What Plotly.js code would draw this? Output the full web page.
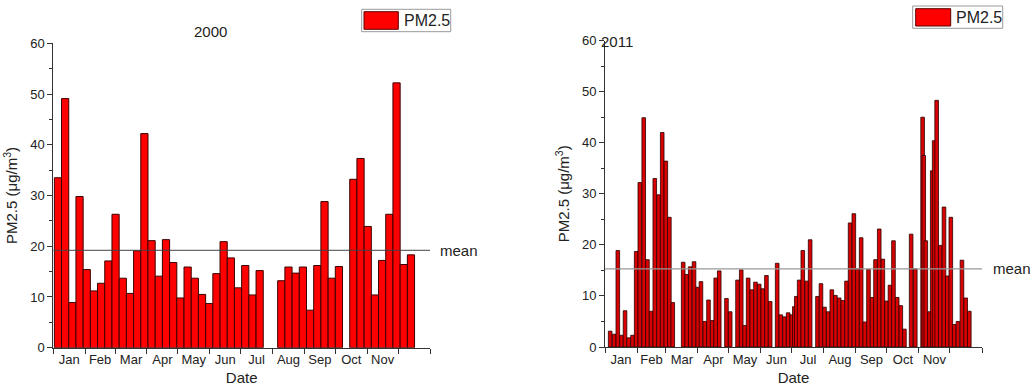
<!DOCTYPE html>
<html>
<head>
<meta charset="utf-8">
<script src="https://cdn.plot.ly/plotly-3.0.1.min.js"></script>
<style>
html,body{margin:0;padding:0;background:#fff;}
#chart{width:1035px;height:392px;}
</style>
</head>
<body>
<div id="chart"></div>
<script>
// ---------- data ----------
const monthLabels = ['Jan','Feb','Mar','Apr','May','Jun','Jul','Aug','Sep','Oct','Nov'];
const monthStarts2000 = [0,31,60,91,121,152,182,213,244,274,305,335,366];
const monthStarts2011 = [0,31,59,90,120,151,181,212,243,273,304,334,365];

// 2000: weekly samples, start day-of-year of each week
const weekStart2000 = [1,8,15,22,29,36,43,50,57,64,71,78,85,92,99,106,113,120,127,134,141,148,155,162,169,176,183,190,197,
  218,225,232,239,246,253,260,267,274,
  288,295,302,309,316,323,330,337,344];
const pm2000 = [33.5,49.1,8.9,29.8,15.4,11.2,12.7,17.1,26.3,13.7,10.7,19.1,42.2,21.1,14.1,21.3,16.8,9.8,15.9,13.7,10.5,8.7,14.6,20.9,17.7,11.8,16.2,10.4,15.2,
  13.2,15.9,14.7,15.9,7.4,16.2,28.8,13.7,16.0,
  33.2,37.3,23.9,10.4,17.2,26.3,52.2,16.4,18.3];
const mean2000 = 19.2;

// 2011: sample day-of-year (centre of each sample)
const day2011 = [5.0,8.9,12.4,16.0,19.4,22.9,26.6,30.2,33.7,37.5,41.1,44.7,48.2,51.8,55.4,58.9,62.3,65.6,
  75.7,79.1,82.5,86.2,89.8,92.9,96.6,100.2,103.8,107.2,110.6,
  117.6,121.2,
  128.3,131.9,135.2,138.6,142.1,145.7,149.3,152.7,156.3,159.9,
  166.7,170.2,173.8,177.3,180.8,183.3,185.2,188.0,191.5,195.2,198.6,
  205.7,209.1,212.5,216.1,219.6,223.1,226.7,230.2,233.8,237.3,240.9,244.4,248.0,251.5,255.1,258.5,261.9,265.5,269.0,272.5,275.9,279.3,282.9,286.4,289.9,
  296.4,300.4,
  307.5,308.6,310.6,314.1,316.8,318.7,321.1,324.6,328.2,331.4,334.8,338.1,341.7,345.6,349.2,352.7];
const pm2011 = [3.1,2.5,18.9,2.3,7.1,1.8,2.3,18.7,32.2,44.9,17.1,7.0,33.0,29.8,42.0,36.4,25.4,8.7,
  16.6,14.2,15.7,16.7,11.7,12.8,5.0,9.2,5.2,13.5,14.9,
  9.5,6.9,
  13.1,15.1,4.2,13.5,11.2,12.7,12.3,11.4,14.0,8.9,
  16.4,6.3,5.9,6.7,6.3,7.9,9.9,13.1,18.9,12.9,21.0,
  9.9,12.4,7.8,6.9,11.2,10.1,9.6,9.1,12.9,24.3,26.1,15.3,21.4,4.9,15.2,9.7,17.1,23.1,17.2,9.0,12.1,20.8,9.7,8.1,3.5,
  22.1,15.3,
  45.0,37.5,20.8,6.9,34.5,40.4,48.3,19.9,27.4,13.9,25.4,4.4,5.0,17.0,9.6,7.0];
const mean2011 = 15.3;

const seriesName = 'PM2.5';
const yTitle = 'PM2.5 (μg/m<sup>3</sup>)';
const xTitle = 'Date';

// ---------- helpers ----------
function mids(starts){ const m=[]; for(let i=0;i<monthLabels.length;i++) m.push((starts[i]+starts[i+1])/2); return m; }
const W = 1035, H = 392;
const px = v => v / W;
const py = v => 1 - v / H;
const FONT = 'Liberation Sans, Arial, sans-serif';
const AX = '#333';

function xAxis(domain, starts, anchor){
  return {
    domain: domain, anchor: anchor, range: [0, starts[starts.length-1]],
    showline: true, linecolor: AX, linewidth: 1, mirror: false,
    showgrid: false, zeroline: false,
    tickmode: 'array', tickvals: mids(starts), ticktext: monthLabels, ticks: '',
    tickfont: {size: 13, color: '#222', family: FONT},
    minor: {tickmode: 'array', tickvals: starts, ticks: 'outside', ticklen: 5, tickwidth: 1, tickcolor: AX, showgrid: false},
    title: {text: xTitle, font: {size: 15, color: '#222', family: FONT}, standoff: 6},
    fixedrange: true
  };
}
function yAxis(domain, anchor){
  return {
    domain: domain, anchor: anchor, range: [0, 60],
    showline: true, linecolor: AX, linewidth: 1,
    showgrid: false, zeroline: false,
    tickmode: 'linear', tick0: 0, dtick: 10, ticks: 'outside', ticklen: 5, tickwidth: 1, tickcolor: AX,
    minor: {dtick: 5, ticks: 'outside', ticklen: 3, tickwidth: 1, tickcolor: AX, showgrid: false},
    tickfont: {size: 13, color: '#222', family: FONT},
    title: {text: yTitle, font: {size: 15, color: '#222', family: FONT}, standoff: 8},
    fixedrange: true
  };
}

const traces = [
  {type: 'bar', name: seriesName, x: weekStart2000, y: pm2000, width: 7, offset: 0,
   marker: {color: '#ff0000', line: {color: '#3a0000', width: 1}},
   xaxis: 'x', yaxis: 'y', showlegend: false, hoverinfo: 'skip'},
  {type: 'bar', name: seriesName, x: day2011, y: pm2011, width: 3.5,
   marker: {color: '#d80000', line: {color: '#2a0000', width: 0.8}},
   xaxis: 'x2', yaxis: 'y2', showlegend: false, hoverinfo: 'skip'}
];

const shapes = [
  {type: 'line', xref: 'x', yref: 'y', x0: 0, x1: 366, y0: mean2000, y1: mean2000, line: {color: '#444', width: 1}, layer: 'above'},
  {type: 'line', xref: 'x2', yref: 'y2', x0: 0, x1: 365, y0: mean2011, y1: mean2011, line: {color: '#999', width: 1.3}, layer: 'above'},
  // legend boxes
  {type: 'rect', xref: 'paper', yref: 'paper', x0: px(361.7), x1: px(450.7), y0: py(31.7), y1: py(9.3), line: {color: '#999', width: 1}, fillcolor: '#fff'},
  {type: 'rect', xref: 'paper', yref: 'paper', x0: px(364), x1: px(398.3), y0: py(29.3), y1: py(11.7), line: {color: '#5a0000', width: 1}, fillcolor: '#ff0000'},
  {type: 'rect', xref: 'paper', yref: 'paper', x0: px(912.7), x1: px(1002.7), y0: py(28.3), y1: py(6), line: {color: '#999', width: 1}, fillcolor: '#fff'},
  {type: 'rect', xref: 'paper', yref: 'paper', x0: px(915.7), x1: px(950.7), y0: py(26), y1: py(8.7), line: {color: '#5a0000', width: 1}, fillcolor: '#ff0000'}
];

const annFont = {size: 15, color: '#222', family: FONT};
const annotations = [
  {text: '2000', xref: 'paper', yref: 'paper', x: px(210), y: py(32), xanchor: 'center', yanchor: 'middle', showarrow: false, font: annFont},
  {text: '2011', xref: 'paper', yref: 'paper', x: px(617), y: py(42), xanchor: 'center', yanchor: 'middle', showarrow: false, font: annFont},
  {text: 'mean', xref: 'x', yref: 'y', x: 366, y: mean2000, xanchor: 'left', yanchor: 'middle', xshift: 8, showarrow: false, font: {size: 15, color: '#222', family: FONT}},
  {text: 'mean', xref: 'x2', yref: 'y2', x: 365, y: mean2011, xanchor: 'left', yanchor: 'middle', xshift: 9, showarrow: false, font: {size: 15, color: '#222', family: FONT}},
  {text: seriesName, xref: 'paper', yref: 'paper', x: px(402), y: py(20.5), xanchor: 'left', yanchor: 'middle', showarrow: false, font: {size: 16, color: '#222', family: FONT}},
  {text: seriesName, xref: 'paper', yref: 'paper', x: px(954), y: py(17.2), xanchor: 'left', yanchor: 'middle', showarrow: false, font: {size: 16, color: '#222', family: FONT}}
];

const layout = {
  width: W, height: H,
  margin: {l: 0, r: 0, t: 0, b: 0},
  paper_bgcolor: '#fff', plot_bgcolor: '#fff',
  font: {family: FONT, color: '#222'},
  showlegend: false,
  barmode: 'overlay',
  xaxis: xAxis([px(53.3), px(430)], monthStarts2000, 'y'),
  yaxis: yAxis([1 - 347.7/H, 1 - 43.3/H], 'x'),
  xaxis2: xAxis([px(605), px(982)], monthStarts2011, 'y2'),
  yaxis2: yAxis([1 - 347/H, 1 - 40.6/H], 'x2'),
  shapes: shapes,
  annotations: annotations
};

Plotly.newPlot('chart', traces, layout, {staticPlot: true, displayModeBar: false});
</script>
</body>
</html>
